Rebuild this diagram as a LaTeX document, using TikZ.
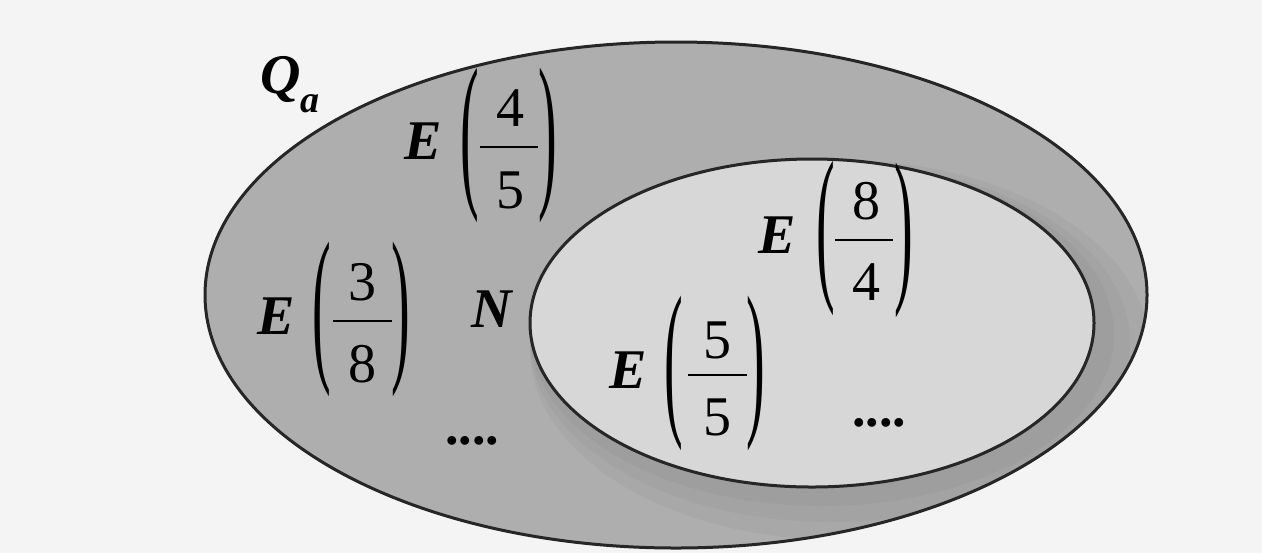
\documentclass[tikz,border=0pt]{standalone}
\usepackage{fontspec}
\setmainfont{Liberation Serif}
\usepackage{graphicx}
\definecolor{bgc}{HTML}{F4F4F4}
\definecolor{outerc}{HTML}{AEAEAE}
\definecolor{innerc}{HTML}{D7D7D7}
\definecolor{shadowc}{HTML}{7A7A7A}
\newcommand{\tallparen}[1]{\scalebox{1.0}[3.05]{#1}}
\begin{document}
\begin{tikzpicture}[x=0.5pt,y=-0.5pt,
  lbl/.style={inner sep=0pt, font=\fontsize{28}{30}\selectfont\bfseries\itshape},
  num/.style={inner sep=0pt, font=\fontsize{28}{30}\selectfont},
  paren/.style={inner sep=0pt, font=\fontsize{28}{30}\selectfont},
  fracbar/.style={line width=1.2pt},
  rim/.style={line width=1.5pt, draw=black!85},
  dotrow/.style={inner sep=0pt, font=\fontsize{27}{30}\selectfont\bfseries}]
\fill[bgc] (0,0) rectangle (1262,553);
\useasboundingbox (0,0) rectangle (1262,553);
% outer set
\begin{scope}
  \clip (676,295) ellipse [x radius=235.5pt, y radius=126.5pt];
  \fill[outerc] (676,295) ellipse [x radius=235.5pt, y radius=126.5pt];
  \fill[shadowc, opacity=0.10] (840,350) ellipse [x radius=155pt, y radius=95pt];
  \fill[shadowc, opacity=0.10] (830,342) ellipse [x radius=150pt, y radius=90pt];
  \fill[shadowc, opacity=0.10] (822,334) ellipse [x radius=146pt, y radius=86pt];
\end{scope}
\draw[rim] (676,295) ellipse [x radius=235.5pt, y radius=126.5pt];
% inner set
\fill[innerc] (812,323) ellipse [x radius=141pt, y radius=82pt];
\draw[rim] (812,323) ellipse [x radius=141pt, y radius=82pt];
% Q_a
\node[lbl, anchor=base west] (qa) at (260,93) {Q\raisebox{-9.5pt}{\fontsize{19}{19}\selectfont a}};
% E(4/5)
\node[lbl] (ea) at (423,141) {E};
\node[paren] (lpa) at (470,145) {\tallparen{(}};
\node[num] (na) at (510,108) {4};
\node[num] (da) at (510,190) {5};
\node[paren] (rpa) at (548,145) {\tallparen{)}};
\coordinate (bal) at (480,147);
\coordinate (bar) at (538,147);
\draw[fracbar] (bal) -- (bar);
% E(3/8)
\node[lbl] (eb) at (276,316) {E};
\node[paren] (lpb) at (322,319) {\tallparen{(}};
\node[num] (nb) at (362,282) {3};
\node[num] (db) at (362,364) {8};
\node[paren] (rpb) at (401,319) {\tallparen{)}};
\coordinate (bbl) at (333,321);
\coordinate (bbr) at (392,321);
\draw[fracbar] (bbl) -- (bbr);
% N
\node[lbl] (n) at (492,309) {N};
% dots outer
\node[dotrow] (dotsa) at (472,441) {....};
% E(8/4)
\node[lbl] (ec) at (777,235) {E};
\node[paren] (lpc) at (826,238) {\tallparen{(}};
\node[num] (nc) at (866,201) {8};
\node[num] (dc) at (866,282) {4};
\node[paren] (rpc) at (904,240) {\tallparen{)}};
\coordinate (bcl) at (835,240);
\coordinate (bcr) at (893,240);
\draw[fracbar] (bcl) -- (bcr);
% E(5/5)
\node[lbl] (ed) at (628,370) {E};
\node[paren] (lpd) at (674,373) {\tallparen{(}};
\node[num] (nd) at (717,340) {5};
\node[num] (dd) at (717,417) {5};
\node[paren] (rpd) at (756,373) {\tallparen{)}};
\coordinate (bdl) at (688,375);
\coordinate (bdr) at (747,375);
\draw[fracbar] (bdl) -- (bdr);
% dots inner
\node[dotrow] (dotsb) at (879,423) {....};
\end{tikzpicture}
\end{document}
